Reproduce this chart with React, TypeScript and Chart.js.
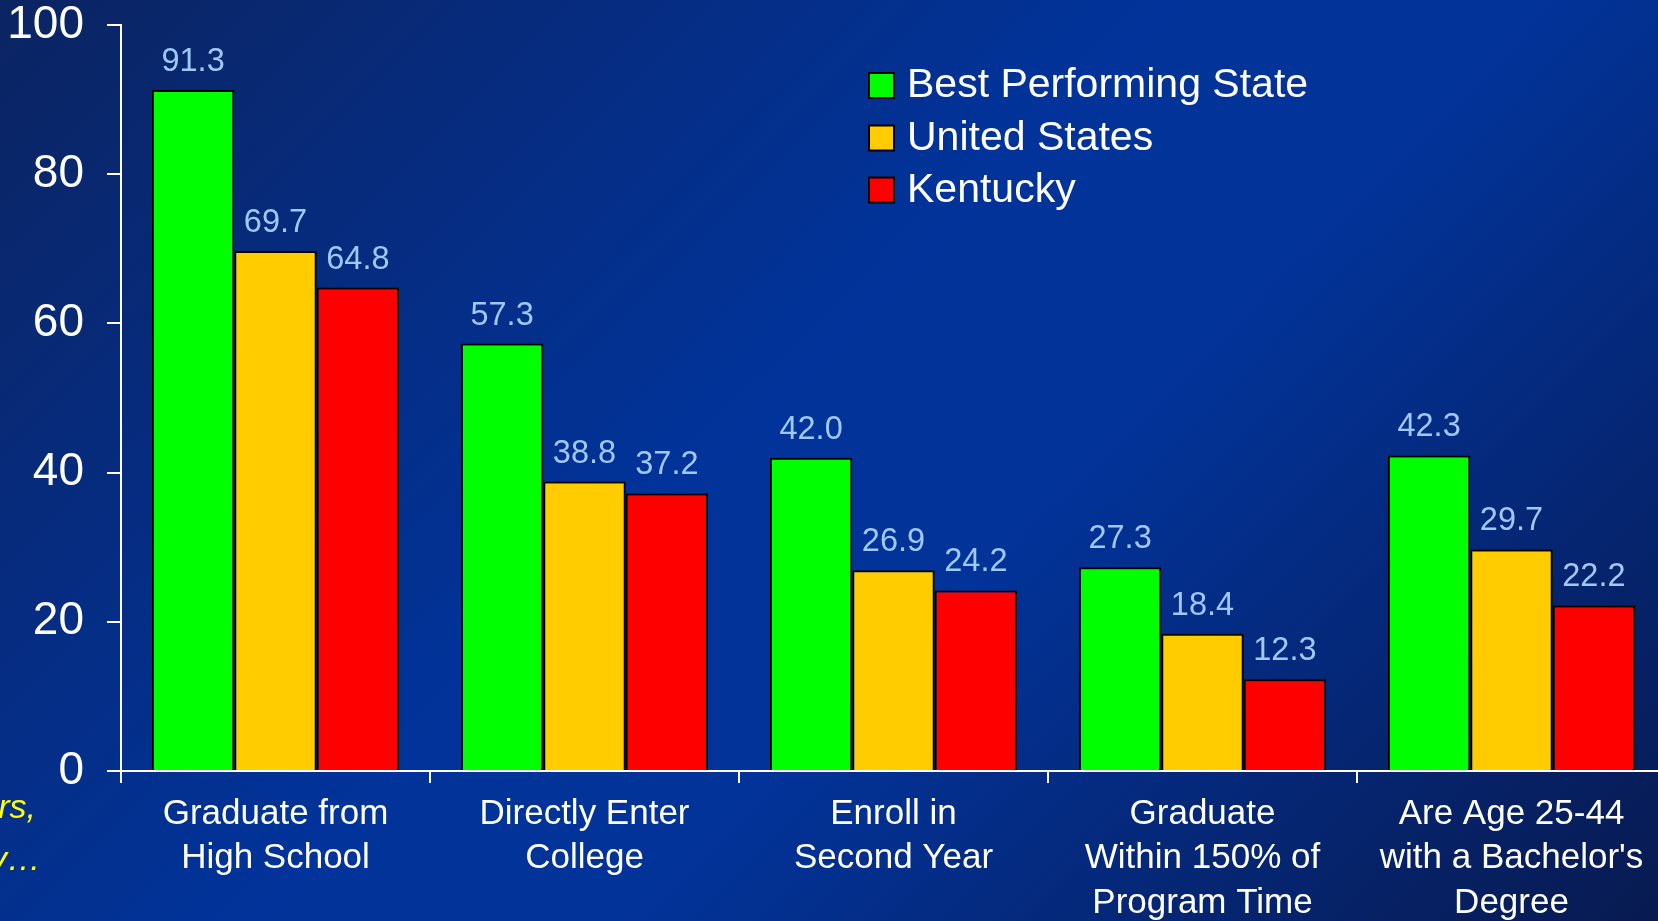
import React, { useEffect, useRef } from "react";
import { Chart, registerables } from "chart.js";

Chart.register(...registerables);

const categories: string[][] = [
  ["Graduate from", "High School"],
  ["Directly Enter", "College"],
  ["Enroll in", "Second Year"],
  ["Graduate", "Within 150% of", "Program Time"],
  ["Are Age 25-44", "with a Bachelor's", "Degree"],
];
const bestState: number[] = [91.3, 57.3, 42.0, 27.3, 42.3];
const unitedStates: number[] = [69.7, 38.8, 26.9, 18.4, 29.7];
const kentucky: number[] = [64.8, 37.2, 24.2, 12.3, 22.2];
const seriesNames: string[] = ["Best Performing State", "United States", "Kentucky"];
const seriesColors: string[] = ["#00ff00", "#ffcc00", "#ff0000"];
const sideNote: string[] = ["rs,", "y\u2026"];

const FONT = "Arial, 'Liberation Sans', sans-serif";

const valueLabels = {
  id: "valueLabels",
  afterDatasetsDraw(chart: any) {
    const ctx = chart.ctx;
    ctx.save();
    ctx.font = `32.5px ${FONT}`;
    ctx.fillStyle = "#a0c8f8";
    ctx.textAlign = "center";
    ctx.textBaseline = "alphabetic";
    chart.data.datasets.forEach((ds: any, i: number) => {
      const meta = chart.getDatasetMeta(i);
      meta.data.forEach((bar: any, j: number) => {
        ctx.fillText(Number(ds.data[j]).toFixed(1), bar.x, bar.y - 19);
      });
    });
    ctx.restore();
  },
};

const customLegend = {
  id: "customLegend",
  afterDraw(chart: any) {
    const ctx = chart.ctx;
    ctx.save();
    const x0 = 869;
    const rowY = [85, 137.5, 189.5];
    chart.data.datasets.forEach((ds: any, i: number) => {
      const cy = rowY[i];
      ctx.fillStyle = ds.backgroundColor;
      ctx.fillRect(x0, cy - 12, 25, 25);
      ctx.lineWidth = 2;
      ctx.strokeStyle = "#000000";
      ctx.strokeRect(x0, cy - 12, 25, 25);
      ctx.fillStyle = "#ffffff";
      ctx.font = `41px ${FONT}`;
      ctx.textAlign = "left";
      ctx.textBaseline = "middle";
      ctx.fillText(ds.label, 907, cy + 1);
    });
    // cut-off side note at bottom-left
    ctx.font = `italic 34px ${FONT}`;
    ctx.fillStyle = "#ffff00";
    ctx.textAlign = "right";
    ctx.textBaseline = "alphabetic";
    ctx.fillText(sideNote[0], 36, 818);
    ctx.fillText(sideNote[1], 41, 870);
    ctx.restore();
  },
};

export default function App() {
  const ref = useRef<HTMLCanvasElement | null>(null);
  useEffect(() => {
    if (!ref.current) return;
    const data = [bestState, unitedStates, kentucky];
    const chart = new Chart(ref.current, {
      type: "bar",
      data: {
        labels: categories,
        datasets: data.map((d, i) => ({
          label: seriesNames[i],
          data: d,
          backgroundColor: seriesColors[i],
          borderColor: "#000000",
          borderWidth: 2,
          barPercentage: 1,
          categoryPercentage: 0.8,
        })),
      },
      options: {
        animation: false,
        responsive: false,
        maintainAspectRatio: false,
        devicePixelRatio: 1,
        layout: { padding: { top: 25, left: 0, right: 14, bottom: 0 } },
        plugins: {
          legend: { display: false },
          tooltip: { enabled: false },
        },
        scales: {
          x: {
            offset: true,
            grid: {
              offset: true,
              drawOnChartArea: false,
              drawTicks: true,
              tickLength: 12,
              color: "#ffffff",
              lineWidth: 2,
            },
            border: { display: true, color: "#ffffff", width: 2 },
            ticks: {
              color: "#ffffff",
              font: { family: FONT, size: 35, lineHeight: 1.27 },
              padding: 9,
              maxRotation: 0,
              autoSkip: false,
            },
            afterFit(scale: any) {
              scale.height = 150;
              scale.paddingLeft = 0;
              scale.paddingRight = 0;
            },
          },
          y: {
            min: 0,
            max: 100,
            ticks: {
              stepSize: 20,
              color: "#ffffff",
              font: { family: FONT, size: 46 },
              padding: 23,
            },
            grid: {
              drawOnChartArea: false,
              drawTicks: true,
              tickLength: 14,
              color: "#ffffff",
              lineWidth: 2,
            },
            border: { display: true, color: "#ffffff", width: 2 },
            afterFit(scale: any) {
              scale.width = 121;
              scale.paddingTop = 0;
              scale.paddingBottom = 0;
            },
          },
        },
      },
      plugins: [valueLabels, customLegend],
    });
    return () => chart.destroy();
  }, []);

  return (
    <div
      style={{
        position: "fixed",
        left: 0,
        top: 0,
        width: "100vw",
        height: "100vh",
        overflow: "hidden",
        background:
          "linear-gradient(135deg, #0b2462 0%, #01339a 45%, #023399 60%, #081a50 100%)",
      }}
    >
      <canvas
        ref={ref}
        width={1680}
        height={921}
        style={{ display: "block", width: "1680px", height: "921px" }}
      />
    </div>
  );
}
